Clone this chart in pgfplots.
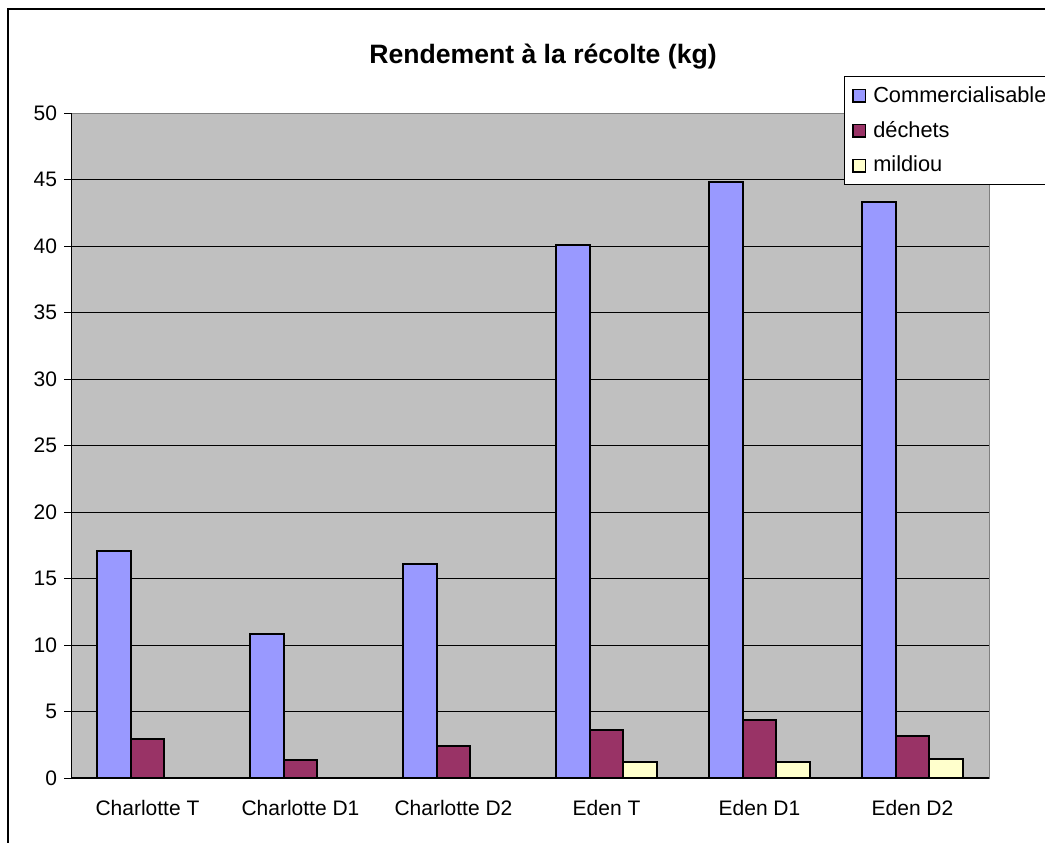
\documentclass[border=0pt]{standalone}
\usepackage{fontspec}
\setmainfont{Liberation Sans}
\usepackage{pgfplots}
\pgfplotsset{compat=1.18}
\definecolor{cblue}{HTML}{9999FF}
\definecolor{cred}{HTML}{993366}
\definecolor{cyel}{HTML}{FFFFCC}
\definecolor{plotbg}{HTML}{C0C0C0}
\definecolor{bordergray}{HTML}{808080}
\begin{document}
\begin{tikzpicture}
\useasboundingbox (0,0) rectangle (522.5pt,421pt);
\draw[line width=1pt] (4pt,-10pt) -- (4pt,416.5pt) -- (560pt,416.5pt);
\node[font=\bfseries\fontsize{13.3}{16}\selectfont] at (271.5pt,392.5pt) {Rendement à la récolte (kg)};
\begin{axis}[
  at={(35.5pt,32pt)}, anchor=south west,
  scale only axis, width=459pt, height=332.5pt,
  xmin=-0.5, xmax=5.5, ymin=0, ymax=50,
  ytick={0,5,...,50},
  xtick={0,...,5},
  xticklabels={Charlotte T, Charlotte D1, Charlotte D2, Eden T, Eden D1, Eden D2},
  major x tick style={draw=none},
  extra x ticks={-0.5,0.5,1.5,2.5,3.5,4.5,5.5},
  extra x tick labels={},
  extra x tick style={major tick style={draw=black, line width=0.5pt}},
  xtick pos=bottom, ytick pos=left,
  tick align=outside, major tick length=3.5pt,
  tick style={black, line width=0.5pt},
  ymajorgrids=true,
  major grid style={black, line width=0.45pt},
  axis line style={draw=bordergray, line width=0.5pt},
  axis background/.style={fill=plotbg},
  ticklabel style={font=\fontsize{10.5}{12}\selectfont},
  /pgf/number format/assume math mode=true,
  xticklabel style={yshift=-4pt},
  legend style={at={(0.842,1.056)}, anchor=north west, draw=black, line width=0.5pt,
    fill=white, font=\fontsize{10.9}{12.5}\selectfont, row sep=4pt,
    inner xsep=4pt, inner ysep=3pt, cells={anchor=west}},
  legend cell align=left,
  legend image code/.code={\draw[#1, line width=0.6pt] (0pt,-3.2pt) rectangle (6.2pt,3.2pt);
    \path (7.6pt,0pt);},
]
\addplot[ybar, bar width=0.222, bar shift=-0.222, fill=cblue, draw=black, line width=1pt]
  coordinates {(0,17.1) (1,10.8) (2,16.1) (3,40.1) (4,44.8) (5,43.3)};
\addplot[ybar, bar width=0.222, bar shift=0, fill=cred, draw=black, line width=1pt]
  coordinates {(0,2.9) (1,1.35) (2,2.38) (3,3.58) (4,4.38) (5,3.18)};
\addplot[ybar, bar width=0.222, bar shift=0.222, fill=cyel, draw=black, line width=1pt]
  coordinates {(3,1.2) (4,1.2) (5,1.45)};
\legend{Commercialisable, déchets, mildiou}
\draw[black, line width=0.6pt] (rel axis cs:0,1) -- (rel axis cs:0,0) -- (rel axis cs:1,0);
\end{axis}
\end{tikzpicture}
\end{document}
